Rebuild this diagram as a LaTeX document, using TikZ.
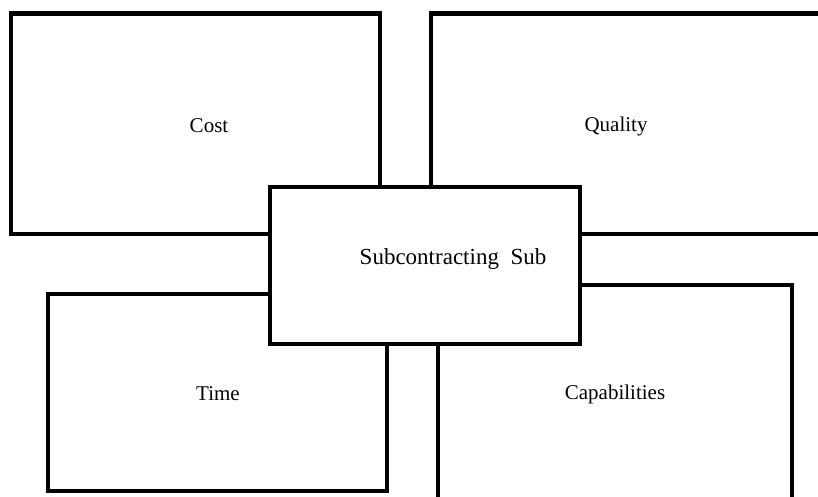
\documentclass[tikz,border=0pt]{standalone}
\usepackage{fontspec}
\setmainfont{Liberation Serif}
\usetikzlibrary{positioning}

\begin{document}
\begin{tikzpicture}[x=1pt,y=-1pt,
box/.style={draw,rectangle,line width=4.5pt,inner sep=0pt},
hub/.style={box,fill=white},
lbl/.style={font=\fontsize{21}{25}\selectfont},]
\useasboundingbox (0,0) rectangle (818,496);
\begin{scope}
\clip (0,0) rectangle (818,496);
% the four outer boxes
\node[box,minimum width=369pt,minimum height=220.5pt] (cost) at (195.5,123.75) {};
\node[box,minimum width=409pt,minimum height=220.5pt] (quality) at (635.5,123.75) {};
\node[box,minimum width=339pt,minimum height=197pt] (time) at (217.5,392.5) {};
\node[box,minimum width=354pt,minimum height=235pt] (capab) at (615,402.5) {};
% the one in the middle, over them
\node[hub,minimum width=310pt,minimum height=157pt] (sub) at (425,265.5) {};
\end{scope}
\node[lbl] (costlbl) at (209,126) {Cost};
\node[lbl] (qualitylbl) at (616,126) {Quality};
\node[lbl,font=\fontsize{23}{27}\selectfont] (sublbl) at (453,259) {Subcontracting\ \ Sub};
\node[lbl] (timelbl) at (218,394) {Time};
\node[lbl] (capablbl) at (615,394) {Capabilities};

\end{tikzpicture}
\end{document}
